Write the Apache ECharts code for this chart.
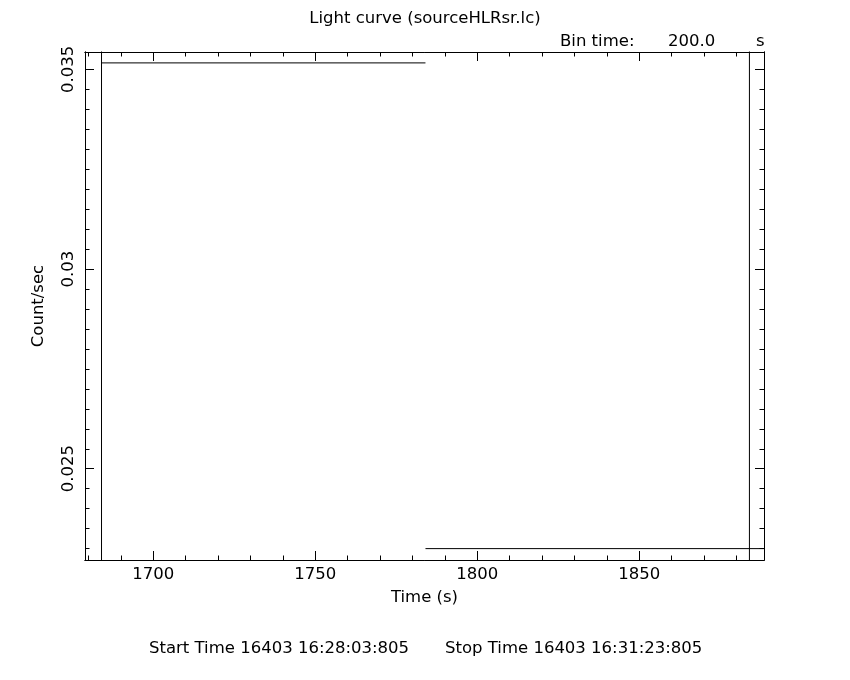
<!DOCTYPE html>
<html>
<head>
<meta charset="utf-8">
<script src="https://cdn.jsdelivr.net/npm/echarts@6/dist/echarts.min.js"></script>
<style>
html,body{margin:0;padding:0;background:#fff;}
#chart{width:850px;height:680px;}
</style>
</head>
<body>
<div id="chart"></div>
<script>
// ---- data ----
const binStart = [1684, 1784];
const binEnd = [1784, 1990];
const rate = [0.03516, 0.02300];
const markerTimes = [1684, 1884];
const markerLow = [0.0220, 0.0220];
const markerHigh = [0.0480, 0.0480];

const xMajorTicks = [1700, 1750, 1800, 1850];
const xMinorTicks = [1680, 1690, 1710, 1720, 1730, 1740, 1760, 1770, 1780, 1790, 1810, 1820, 1830, 1840, 1860, 1870, 1880];
const yMajorTicks = [0.025, 0.03, 0.035];
const yMinorTicks = [0.023, 0.0235, 0.024, 0.0245, 0.0255, 0.026, 0.0265, 0.027, 0.0275, 0.028, 0.0285, 0.029, 0.0295, 0.0305, 0.031, 0.0315, 0.032, 0.0325, 0.033, 0.0335, 0.034, 0.0345];
const xMin = 1678.9, xMax = 1888.5;
const yMin = 0.022715, yMax = 0.035433;

const titleText = 'Light curve (sourceHLRsr.lc)';
const binLabel = 'Bin time:';
const binValue = '200.0';
const binUnit = 's';
const startText = 'Start Time 16403 16:28:03:805';
const stopText = 'Stop Time 16403 16:31:23:805';
const xName = 'Time (s)';
const yName = 'Count/sec';

// ---- chart ----
const FONT = 'DejaVu Sans';
const chart = echarts.init(document.getElementById('chart'), null, {renderer: 'canvas'});

const txt = {color: '#000', fontFamily: FONT, fontSize: 16.5, fontWeight: 'normal'};

function xAx(pos, ticks, len, withLabel) {
  return {
    type: 'value', position: pos, min: xMin, max: xMax,
    axisLine: {show: true, onZero: false, lineStyle: {color: '#000', width: 1}},
    axisTick: {show: true, inside: true, length: len, customValues: ticks, lineStyle: {color: '#000', width: 1}},
    axisLabel: withLabel ? Object.assign({show: true, margin: 6, customValues: ticks, formatter: v => String(v)}, txt) : {show: false},
    splitLine: {show: false},
    name: withLabel ? xName : '',
    nameLocation: 'middle', nameGap: 29,
    nameTextStyle: txt
  };
}
function yAx(pos, ticks, len, withLabel) {
  return {
    type: 'value', position: pos, min: yMin, max: yMax,
    axisLine: {show: true, onZero: false, lineStyle: {color: '#000', width: 1}},
    axisTick: {show: true, inside: true, length: len, customValues: ticks, lineStyle: {color: '#000', width: 1}},
    axisLabel: withLabel ? Object.assign({show: true, margin: 8, rotate: 90, customValues: ticks, formatter: v => String(v)}, txt) : {show: false},
    splitLine: {show: false},
    name: withLabel ? yName : '',
    nameLocation: 'middle', nameGap: 38, nameRotate: 90,
    nameTextStyle: txt
  };
}

const series = [];
for (let i = 0; i < rate.length; i++) {
  series.push({
    type: 'line', xAxisIndex: 0, yAxisIndex: 0, symbol: 'none', clip: true,
    lineStyle: {color: '#000', width: 1}, silent: true,
    data: [[binStart[i], rate[i]], [binEnd[i], rate[i]]]
  });
}
for (let i = 0; i < markerTimes.length; i++) {
  series.push({
    type: 'line', xAxisIndex: 0, yAxisIndex: 0, symbol: 'none', clip: true,
    lineStyle: {color: '#000', width: 1}, silent: true,
    data: [[markerTimes[i], markerLow[i]], [markerTimes[i], markerHigh[i]]]
  });
}

chart.setOption({
  animation: false,
  backgroundColor: '#fff',
  title: [
    {text: titleText, left: 'center', top: 5, textStyle: txt},
    {text: binLabel, left: 555, top: 28, textStyle: txt},
    {text: binValue, left: 663, top: 28, textStyle: txt},
    {text: binUnit, left: 751, top: 28, textStyle: txt},
    {text: startText, left: 144, top: 635, textStyle: txt},
    {text: stopText, left: 440, top: 635, textStyle: txt}
  ],
  grid: {left: 85, right: 86, top: 52, bottom: 120, containLabel: false},
  xAxis: [
    xAx('bottom', xMajorTicks, 9, true),
    xAx('bottom', xMinorTicks, 4.5, false),
    xAx('top', xMajorTicks, 9, false),
    xAx('top', xMinorTicks, 4.5, false)
  ],
  yAxis: [
    yAx('left', yMajorTicks, 9, true),
    yAx('left', yMinorTicks, 4.5, false),
    yAx('right', yMajorTicks, 9, false),
    yAx('right', yMinorTicks, 4.5, false)
  ],
  series: series
});
</script>
</body>
</html>
